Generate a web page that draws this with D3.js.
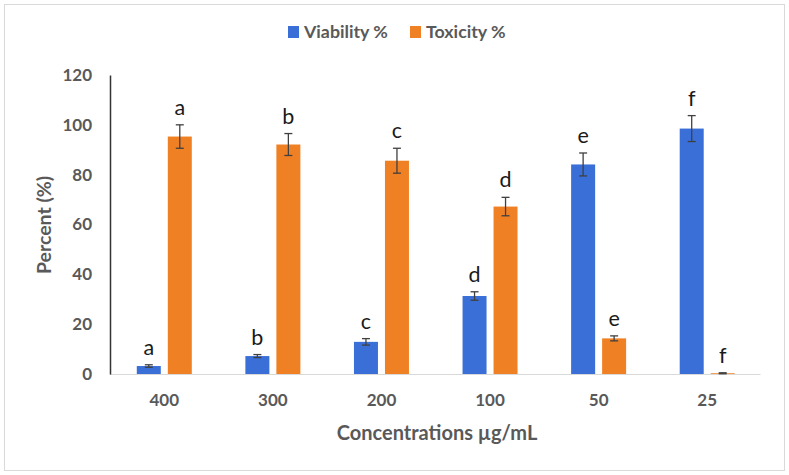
<!DOCTYPE html>
<html>
<head>
<meta charset="UTF-8">
<title>Viability / Toxicity</title>
<script src="https://d3js.org/d3.v7.min.js"></script>
<style>
    body { margin: 0; background: #fff; }
    svg { display: block; font-family: Lato, "Open Sans", sans-serif; }
</style>
</head>
<body>
<svg id="chart" width="789" height="475"></svg>
<script>
// data
var concentrations = ["400", "300", "200", "100", "50", "25"];
var viability    = [3.2, 7.2, 12.9, 31.3, 84.1, 98.5];
var viabilityErr = [0.5, 0.6, 1.3, 1.7, 4.6, 5.2];
var toxicity     = [95.3, 92.1, 85.6, 67.2, 14.3, 0.3];
var toxicityErr  = [4.7, 4.4, 5.0, 3.7, 1.0, 0.2];
var letters      = ["a", "b", "c", "d", "e", "f"];
var seriesNames  = ["Viability %", "Toxicity %"];
var yTicks       = [0, 20, 40, 60, 80, 100, 120];

var colors = { "Viability %": "#3a6fd8", "Toxicity %": "#f08024" };
var textGrey = "#595959";

var svg = d3.select("#chart");

// chart frame
svg.append("rect")
    .attr("x", 4.5).attr("y", 4.5)
    .attr("width", 780).attr("height", 466)
    .attr("fill", "none").attr("stroke", "#d9d9d9");

var plotLeft = 110, plotRight = 761.5, plotTop = 75, plotBottom = 374;

var x0 = d3.scaleBand()
    .domain(concentrations)
    .range([plotLeft, plotRight])
    .paddingInner(0.4935)
    .paddingOuter(0.4935 / 2);

var x1 = d3.scaleBand()
    .domain(seriesNames)
    .range([0, x0.bandwidth()])
    .paddingInner(0.2258);

var y = d3.scaleLinear().domain([0, 120]).range([plotBottom, plotTop]);

// baseline
svg.append("line")
    .attr("x1", plotLeft).attr("x2", plotRight - 1)
    .attr("y1", plotBottom + 0.5).attr("y2", plotBottom + 0.5)
    .attr("stroke", "#d9d9d9").attr("stroke-width", 1.2);

// y axis
var yAxis = svg.append("g")
    .attr("transform", "translate(" + plotLeft + ",0)")
    .call(d3.axisLeft(y).tickValues(yTicks).tickSize(0).tickPadding(18));
yAxis.select(".domain").attr("stroke", "#333").attr("stroke-width", 1.5);
yAxis.selectAll("text")
    .attr("fill", textGrey)
    .style("font-size", "17px")
    .style("font-weight", "bold")
    .style("font-family", "Lato, sans-serif");

// x axis labels
var xAxis = svg.append("g")
    .attr("transform", "translate(0," + plotBottom + ")")
    .call(d3.axisBottom(x0).tickSize(0).tickPadding(20));
xAxis.select(".domain").remove();
xAxis.selectAll("text")
    .attr("fill", textGrey)
    .style("font-size", "17px")
    .style("font-weight", "bold")
    .style("font-family", "Lato, sans-serif");

// rows for bars
var rows = [];
concentrations.forEach(function (c, i) {
    rows.push({ cat: c, s: "Viability %", v: viability[i], e: viabilityErr[i], l: letters[i] });
    rows.push({ cat: c, s: "Toxicity %", v: toxicity[i], e: toxicityErr[i], l: letters[i] });
});

function cx(d) { return x0(d.cat) + x1(d.s) + x1.bandwidth() / 2; }

svg.append("g").selectAll("rect")
    .data(rows)
    .enter().append("rect")
    .attr("x", function (d) { return x0(d.cat) + x1(d.s); })
    .attr("y", function (d) { return y(d.v); })
    .attr("width", x1.bandwidth())
    .attr("height", function (d) { return plotBottom - y(d.v); })
    .attr("fill", function (d) { return colors[d.s]; });

// error bars
var err = svg.append("g")
    .attr("stroke", "#404040")
    .attr("stroke-width", 1.3);
err.selectAll("line.v")
    .data(rows)
    .enter().append("line").attr("class", "v")
    .attr("x1", cx).attr("x2", cx)
    .attr("y1", function (d) { return y(d.v + d.e); })
    .attr("y2", function (d) { return y(Math.max(0, d.v - d.e)); });
err.selectAll("line.top")
    .data(rows)
    .enter().append("line").attr("class", "top")
    .attr("x1", function (d) { return cx(d) - 4; })
    .attr("x2", function (d) { return cx(d) + 4; })
    .attr("y1", function (d) { return y(d.v + d.e); })
    .attr("y2", function (d) { return y(d.v + d.e); });
err.selectAll("line.bot")
    .data(rows)
    .enter().append("line").attr("class", "bot")
    .attr("x1", function (d) { return cx(d) - 4; })
    .attr("x2", function (d) { return cx(d) + 4; })
    .attr("y1", function (d) { return y(Math.max(0, d.v - d.e)); })
    .attr("y2", function (d) { return y(Math.max(0, d.v - d.e)); });

// significance letters
svg.append("g").selectAll("text")
    .data(rows)
    .enter().append("text")
    .attr("x", cx)
    .attr("y", function (d) { return y(d.v + d.e) - 10; })
    .attr("text-anchor", "middle")
    .attr("fill", "#1a1a1a")
    .style("font-size", "21.5px")
    .text(function (d) { return d.l; });

// axis titles
svg.append("text")
    .attr("x", 437)
    .attr("y", 440)
    .attr("text-anchor", "middle")
    .attr("fill", textGrey)
    .style("font-size", "20px")
    .style("font-weight", "bold")
    .text("Concentrations µg/mL");

svg.append("text")
    .attr("transform", "translate(51,225) rotate(-90)")
    .attr("text-anchor", "middle")
    .attr("fill", textGrey)
    .style("font-size", "19.5px")
    .style("font-weight", "bold")
    .text("Percent (%)");

// legend
var legendX = [288, 410];
var legend = svg.append("g").selectAll("g")
    .data(seriesNames)
    .enter().append("g")
    .attr("transform", function (d, i) { return "translate(" + legendX[i] + ",0)"; });
legend.append("rect")
    .attr("x", 0).attr("y", 26)
    .attr("width", 11).attr("height", 12)
    .attr("fill", function (d) { return colors[d]; });
legend.append("text")
    .attr("x", 16).attr("y", 38)
    .attr("fill", textGrey)
    .style("font-size", "17.8px")
    .style("font-weight", "bold")
    .text(function (d) { return d; });
</script>
</body>
</html>
